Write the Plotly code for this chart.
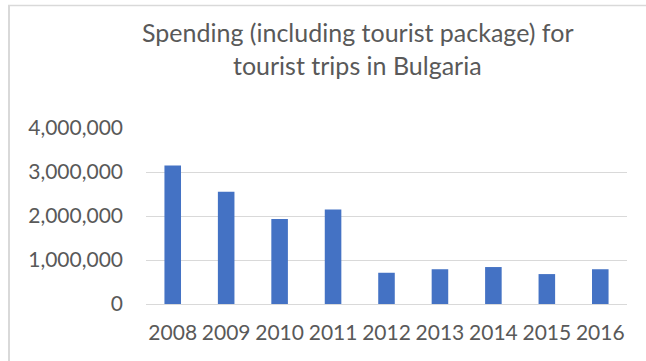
import plotly.graph_objects as go

# Spending on tourist trips in Bulgaria, by year
years = ["2008", "2009", "2010", "2011", "2012", "2013", "2014", "2015", "2016"]
spending = [3150000, 2550000, 1930000, 2150000, 710000, 790000, 840000, 680000, 790000]
y_ticks = [0, 1000000, 2000000, 3000000, 4000000]
title_lines = ["Spending (including tourist package) for", "tourist trips in Bulgaria"]

W, H = 646, 361
ML, MR, MT, MB = 146, 19, 128, 57
plot_w = W - ML - MR
plot_h = H - MT - MB

text_color = "#595959"
grid_color = "#d9d9d9"
font_family = "Lato, Calibri, 'Open Sans', sans-serif"

fig = go.Figure(
    go.Bar(
        x=years,
        y=spending,
        marker=dict(color="#4472C4", line=dict(width=0)),
        hoverinfo="x+y",
    )
)


def px_to_paper_x(px):
    return (px - ML) / plot_w


def px_to_paper_y(py):
    return (H - MB - py) / plot_h


# chart frame: left and top edges in light gray
fig.add_shape(type="line", xref="paper", yref="paper",
              x0=px_to_paper_x(9), x1=px_to_paper_x(9),
              y0=px_to_paper_y(H + 5), y1=px_to_paper_y(5),
              line=dict(color=grid_color, width=2))
fig.add_shape(type="line", xref="paper", yref="paper",
              x0=px_to_paper_x(8), x1=px_to_paper_x(W + 5),
              y0=px_to_paper_y(5.5), y1=px_to_paper_y(5.5),
              line=dict(color=grid_color, width=1.5))

# two-line chart title
for text, cy in zip(title_lines, [32, 65]):
    fig.add_annotation(
        text=text,
        xref="paper", yref="paper",
        x=px_to_paper_x(357), y=px_to_paper_y(cy),
        xanchor="center", yanchor="middle",
        showarrow=False,
        font=dict(family=font_family, size=25, color=text_color),
    )

fig.update_layout(
    width=W,
    height=H,
    margin=dict(l=ML, r=MR, t=MT, b=MB),
    paper_bgcolor="white",
    plot_bgcolor="white",
    bargap=0.69,
    showlegend=False,
    font=dict(family=font_family, color=text_color, size=21),
    xaxis=dict(
        type="category",
        showgrid=False,
        showline=False,
        zeroline=False,
        ticks="",
        ticklabelstandoff=14,
        tickfont=dict(size=21, color=text_color),
    ),
    yaxis=dict(
        range=[0, 4000000],
        tickvals=y_ticks,
        tickformat=",",
        showgrid=True,
        gridcolor=grid_color,
        gridwidth=1.3,
        zeroline=True,
        zerolinecolor=grid_color,
        zerolinewidth=1.3,
        showline=False,
        ticks="",
        ticklabelstandoff=22,
        tickfont=dict(size=21, color=text_color),
    ),
)

fig.write_html("out.html")
